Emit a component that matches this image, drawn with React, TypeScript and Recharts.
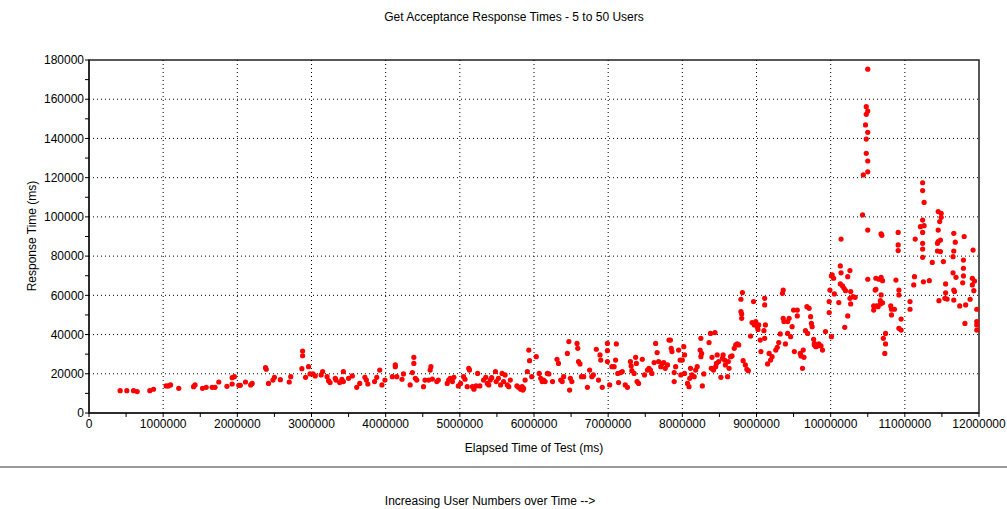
import React from "react";
import {
  ScatterChart,
  Scatter,
  XAxis,
  YAxis,
  ReferenceLine,
  ReferenceArea,
} from "recharts";

type Pt = [number, number];

// elapsed time (ms), response time (ms)
const earlyPoints: Pt[] = [
  [420000, 11400], [510000, 11400], [600000, 11400], [650000, 10900], [820000, 11400], [870000, 12100],
  [1040000, 13800], [1070000, 13800], [1100000, 14300], [1210000, 12600], [1410000, 13400], [1430000, 14300],
  [1530000, 12600], [1580000, 13100], [1660000, 13100], [1700000, 13100], [1750000, 15800], [1860000, 13600],
  [1930000, 14800], [1930000, 18000], [1960000, 18500], [2020000, 14100], [2040000, 14100], [2110000, 15800],
  [2180000, 14300], [2200000, 15100], [2380000, 23100], [2390000, 22300], [2420000, 15100], [2480000, 16800],
  [2500000, 18200], [2580000, 17000], [2700000, 15800], [2720000, 18500], [2880000, 31600], [2880000, 29200],
  [2870000, 22600], [2920000, 18200], [2960000, 23600], [2980000, 19900], [3020000, 19900], [3050000, 18900],
  [3130000, 19400], [3150000, 21100], [3210000, 18500], [3230000, 16500], [3250000, 15500], [3320000, 17700],
  [3330000, 16800], [3380000, 15500], [3410000, 17200], [3430000, 16000], [3430000, 21100], [3500000, 17700],
  [3550000, 18900], [3610000, 13100], [3650000, 15100], [3720000, 18200], [3740000, 16800], [3760000, 14800],
  [3850000, 16000], [3880000, 18200], [3920000, 21900],
];

const midPoints: Pt[] = [
  [3950000, 14300], [3990000, 16800], [4090000, 18500], [4130000, 24500], [4130000, 23600], [4150000, 18500],
  [4220000, 17200], [4240000, 19900], [4330000, 14300], [4360000, 20600], [4380000, 25300], [4380000, 28400],
  [4400000, 17700], [4420000, 16800], [4510000, 13400], [4530000, 16800], [4580000, 16800], [4600000, 21900],
  [4610000, 23600], [4630000, 17300], [4690000, 16000], [4710000, 16800], [4830000, 15100], [4850000, 16800],
  [4870000, 17700], [4900000, 16000], [4920000, 18200], [4980000, 13800], [5010000, 15100], [5050000, 18500],
  [5070000, 17200], [5100000, 13400], [5120000, 22800], [5130000, 21900], [5170000, 13400], [5190000, 12100],
  [5220000, 13800], [5240000, 20200], [5270000, 13800], [5320000, 16800], [5350000, 18200], [5370000, 15100],
  [5390000, 14300], [5410000, 16800], [5430000, 18000], [5480000, 21100], [5490000, 16000], [5520000, 17700],
  [5550000, 14300], [5570000, 20200], [5590000, 16000], [5610000, 19400], [5640000, 14300], [5660000, 13400],
  [5680000, 16800], [5770000, 13800], [5790000, 13100], [5820000, 12100], [5840000, 13400], [5860000, 12600],
  [5850000, 11700], [5880000, 16800], [5910000, 21100], [5930000, 32100], [5940000, 26700], [5970000, 18500],
  [6030000, 28700], [6070000, 20200], [6090000, 17700], [6110000, 16000], [6130000, 16800], [6150000, 16000],
  [6180000, 20200], [6200000, 19900], [6250000, 16000],
];

const climbPoints: Pt[] = [
  [6310000, 27400], [6330000, 25300], [6360000, 16800], [6380000, 16000], [6400000, 18500], [6450000, 30400],
  [6470000, 36400], [6480000, 11700], [6490000, 17700], [6510000, 16000], [6580000, 35500], [6590000, 33000],
  [6600000, 26200], [6620000, 25000], [6640000, 18500], [6670000, 18500], [6720000, 13100], [6750000, 21900],
  [6780000, 18500], [6800000, 19400], [6840000, 32500], [6870000, 16800], [6890000, 29600], [6900000, 27000],
  [6920000, 13100], [6990000, 35500], [6990000, 31800], [6990000, 26200], [7020000, 14300], [7050000, 23600],
  [7080000, 23600], [7100000, 27000], [7110000, 35200], [7130000, 20200], [7140000, 15500], [7170000, 20600],
  [7190000, 21100], [7230000, 14300], [7260000, 13100], [7300000, 26200], [7310000, 24000], [7320000, 21600],
  [7350000, 20200], [7370000, 28400], [7380000, 25300], [7390000, 16000], [7410000, 15100], [7460000, 27400],
  [7490000, 19400], [7530000, 21900], [7550000, 22800], [7570000, 21900], [7590000, 20200], [7620000, 25700],
  [7640000, 35500], [7660000, 30800], [7680000, 26200], [7710000, 23600], [7730000, 25300], [7750000, 25700],
  [7770000, 22800], [7800000, 24500], [7820000, 37200],
];

const risePoints: Pt[] = [
  [7840000, 37200], [7850000, 33000], [7860000, 31300], [7890000, 20600], [7890000, 16000], [7910000, 23600],
  [7950000, 32100], [7970000, 27000], [7980000, 19400], [8000000, 27000], [8020000, 33800], [8030000, 29600],
  [8030000, 20200], [8070000, 15100], [8090000, 13400], [8100000, 17700], [8110000, 22800], [8130000, 19400],
  [8160000, 18500], [8180000, 21900], [8200000, 23600], [8240000, 32100], [8250000, 28700], [8250000, 38100],
  [8260000, 30400], [8270000, 13800], [8290000, 19900], [8360000, 35900], [8380000, 40600], [8390000, 22800],
  [8400000, 28400], [8420000, 21900], [8440000, 41000], [8450000, 23600], [8460000, 25300], [8470000, 29600],
  [8490000, 26200], [8520000, 18200], [8540000, 27900], [8550000, 29600], [8570000, 27000], [8580000, 24500],
  [8610000, 18500], [8620000, 26200], [8630000, 22800], [8650000, 28700], [8670000, 29100], [8700000, 33000],
  [8720000, 34700], [8740000, 35200], [8760000, 34700], [8790000, 58000], [8790000, 51700], [8800000, 50500],
  [8800000, 48300], [8810000, 61400], [8820000, 26700], [8850000, 24500], [8870000, 22300], [8890000, 21600],
];

const ninePoints: Pt[] = [
  [8920000, 39200], [8940000, 46100], [8960000, 56800], [8970000, 44900], [8990000, 46600], [9010000, 44000],
  [9020000, 42600], [9030000, 44900], [9050000, 37200], [9060000, 31300], [9100000, 42000], [9110000, 58500],
  [9110000, 55100], [9120000, 44900], [9110000, 38100], [9150000, 25000], [9170000, 30400], [9190000, 27000],
  [9210000, 28700], [9260000, 32100], [9280000, 33500], [9300000, 35900], [9320000, 40300], [9350000, 61000],
  [9360000, 62700], [9360000, 48300], [9370000, 46600], [9390000, 35200], [9420000, 46600], [9420000, 40600],
  [9440000, 48300], [9460000, 38900], [9480000, 44000], [9500000, 52500], [9510000, 31300], [9550000, 52500],
  [9550000, 49500], [9590000, 30400], [9600000, 29100], [9620000, 22800], [9630000, 32100], [9640000, 28400],
  [9660000, 42000], [9680000, 54200], [9690000, 40600], [9710000, 53400], [9730000, 49100], [9740000, 45700],
  [9750000, 44000], [9770000, 37600], [9780000, 34700], [9780000, 35500], [9800000, 33800], [9820000, 34200],
  [9840000, 35200], [9870000, 34200], [9890000, 32100], [9930000, 41500], [9980000, 56800], [9980000, 51200],
  [9990000, 62700], [10010000, 69900], [10020000, 70400], [10040000, 68700], [10010000, 38900], [10050000, 60700],
  [10110000, 56300],
];

const peakPoints: Pt[] = [
  [10130000, 75000], [10140000, 71500], [10130000, 65800], [10160000, 64800], [10180000, 63600], [10200000, 62400],
  [10230000, 69500], [10230000, 49500], [10260000, 72600], [10190000, 43700], [10140000, 88700], [10270000, 61900],
  [10260000, 58500], [10270000, 55600], [10330000, 59000], [10300000, 59300], [10430000, 101000], [10500000, 93300],
  [10500000, 175300], [10480000, 156200], [10500000, 154000], [10480000, 152300], [10470000, 146900], [10500000, 143100],
  [10480000, 139700], [10480000, 132400], [10500000, 128500], [10500000, 123000], [10440000, 121400], [10680000, 91300],
  [10690000, 90600], [10910000, 92100], [10500000, 68200], [10610000, 68700], [10650000, 68200], [10680000, 69200],
  [10700000, 67500], [10610000, 63100], [10600000, 62700], [10680000, 60200], [10670000, 57300], [10580000, 52500],
  [10620000, 54600], [10640000, 54200], [10670000, 55600], [10700000, 56200], [10580000, 54600],
];

const lastPoints: Pt[] = [
  [10810000, 54600], [10820000, 52900], [10860000, 52900], [10820000, 50000], [10950000, 47900], [10920000, 43200],
  [10950000, 42300], [10740000, 40600], [10710000, 38100], [10740000, 35200], [10730000, 30400], [10880000, 67800],
  [10920000, 62700], [10920000, 60200], [10910000, 85700], [10910000, 82800], [11070000, 56800], [11070000, 52900],
  [11130000, 69500], [11120000, 65300], [11250000, 66900], [11330000, 67500], [11140000, 88700], [11240000, 117400],
  [11240000, 113400], [11260000, 107400], [11450000, 102700], [11490000, 101800], [11490000, 99800], [11240000, 98400],
  [11210000, 95000], [11260000, 95500], [11450000, 93300], [11240000, 92100], [11470000, 97600], [11660000, 91600],
  [11800000, 90000], [11680000, 87100], [11240000, 86500], [11240000, 83600], [11450000, 87400], [11480000, 88200],
  [11440000, 86500], [11440000, 82600], [11480000, 82300], [11660000, 82600], [11650000, 79700], [11790000, 78000],
  [11920000, 83100], [11240000, 79400], [11370000, 76800], [11520000, 77200], [11790000, 73800], [11790000, 69900],
  [11650000, 71500], [11690000, 69200], [11550000, 65800], [11660000, 62700], [11670000, 61900], [11780000, 66400],
  [11910000, 68700], [11940000, 67300], [11910000, 65300], [11930000, 62400], [11550000, 61300], [11460000, 57300],
  [11540000, 58500], [11570000, 58100], [11660000, 57600], [11880000, 58000], [11820000, 55100], [11740000, 54600],
  [11970000, 52900], [11810000, 45700], [11970000, 46600], [11970000, 44900], [11970000, 42300],
];

const xTicks = [
  0, 500000, 1000000, 1500000, 2000000, 2500000, 3000000, 3500000, 4000000, 4500000, 5000000, 5500000,
  6000000, 6500000, 7000000, 7500000, 8000000, 8500000, 9000000, 9500000, 10000000, 10500000, 11000000,
  11500000, 12000000,
];
const yTicks = [
  0, 10000, 20000, 30000, 40000, 50000, 60000, 70000, 80000, 90000, 100000, 110000, 120000, 130000,
  140000, 150000, 160000, 170000, 180000,
];
const xGrid = [1000000, 2000000, 3000000, 4000000, 5000000, 6000000, 7000000, 8000000, 9000000, 10000000, 11000000];
const yGrid = [20000, 40000, 60000, 80000, 100000, 120000, 140000, 160000];

const points = [
  ...earlyPoints,
  ...midPoints,
  ...climbPoints,
  ...risePoints,
  ...ninePoints,
  ...peakPoints,
  ...lastPoints,
].map(([t, ms]) => ({ t, ms }));

const font = '"Liberation Sans", Arial, sans-serif';
const tickStyle = { fill: "#000", fontSize: 12, fontFamily: font };

const Dot = (p: any) => <circle cx={p.cx} cy={p.cy} r={2.6} fill="#ff0000" />;

export default function App() {
  return (
    <div
      style={{
        position: "absolute",
        left: 0,
        top: 0,
        width: 1007,
        height: 509,
        background: "#fff",
        fontFamily: font,
        fontSize: 12,
        color: "#000",
      }}
    >
      <div style={{ position: "absolute", top: 10, left: 514, transform: "translateX(-50%)", whiteSpace: "nowrap" }}>
        Get Acceptance Response Times - 5 to 50 Users
      </div>
      <ScatterChart width={1007} height={509} margin={{ top: 60, right: 28, left: 0, bottom: 0 }}>
        <XAxis
          dataKey="t"
          type="number"
          domain={[0, 12000000]}
          ticks={xTicks}
          interval={0}
          height={96}
          tickSize={4}
          tickMargin={2}
          tick={tickStyle}
          stroke="#000"
          tickFormatter={(v: number) => (v % 1000000 === 0 ? String(v) : "")}
        />
        <YAxis
          dataKey="ms"
          type="number"
          domain={[0, 180000]}
          ticks={yTicks}
          interval={0}
          width={89}
          tickSize={4}
          tickMargin={1}
          tick={tickStyle}
          stroke="#000"
          tickFormatter={(v: number) => (v % 20000 === 0 ? String(v) : "")}
        />
        {xGrid.map((v) => (
          <ReferenceLine key={"x" + v} x={v} stroke="#000" strokeDasharray="1 3" />
        ))}
        {yGrid.map((v) => (
          <ReferenceLine key={"y" + v} y={v} stroke="#000" strokeDasharray="1 3" />
        ))}
        <ReferenceArea x1={0} x2={12000000} y1={0} y2={180000} fill="none" stroke="#222" strokeWidth={1.5} />
        <Scatter data={points} shape={Dot} isAnimationActive={false} />
      </ScatterChart>
      <div
        style={{
          position: "absolute",
          left: 32,
          top: 236,
          transform: "translate(-50%, -50%) rotate(-90deg)",
          whiteSpace: "nowrap",
        }}
      >
        Response Time (ms)
      </div>
      <div style={{ position: "absolute", top: 441, left: 534, transform: "translateX(-50%)", whiteSpace: "nowrap" }}>
        Elapsed Time of Test (ms)
      </div>
      <div style={{ position: "absolute", top: 466, left: 0, width: 1007, height: 2, background: "#9a9a9a" }} />
      <div style={{ position: "absolute", top: 494, left: 490, transform: "translateX(-50%)", whiteSpace: "nowrap" }}>
        Increasing User Numbers over Time --&gt;
      </div>
    </div>
  );
}
